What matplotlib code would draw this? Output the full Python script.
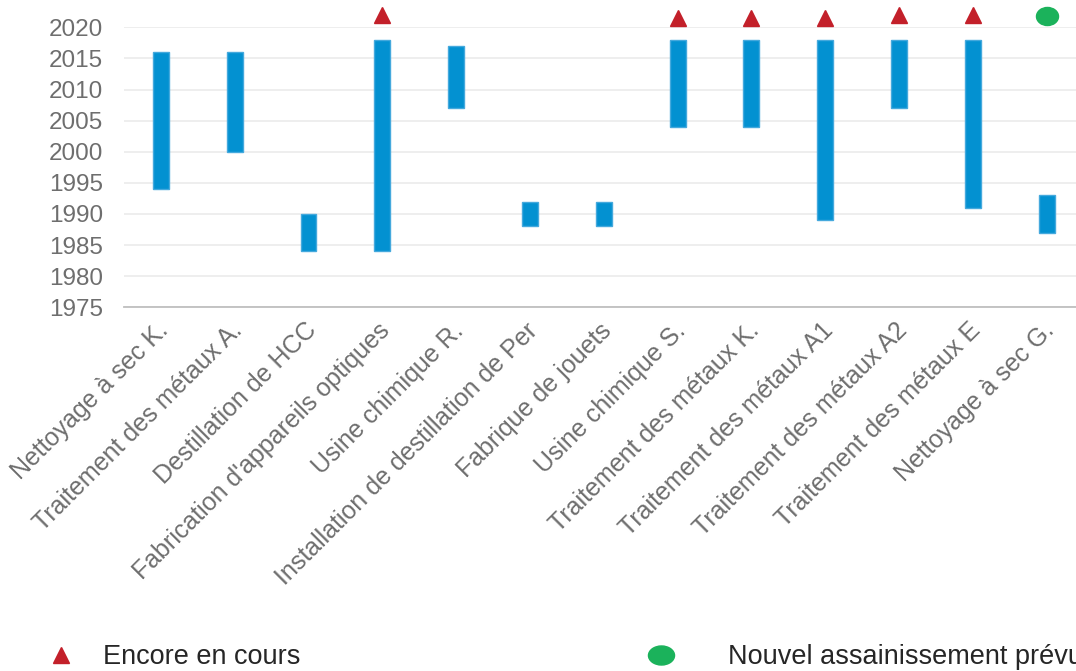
import numpy as np
import matplotlib
matplotlib.use("Agg")
import matplotlib.pyplot as plt
from matplotlib.lines import Line2D
from matplotlib.markers import MarkerStyle
from matplotlib.transforms import Affine2D, ScaledTranslation

plt.rcParams['font.family'] = ['Liberation Sans', 'DejaVu Sans']

# Sites and remediation periods (years)
sites = [
    "Nettoyage à sec K.",
    "Traitement des métaux A.",
    "Destillation de HCC",
    "Fabrication d'appareils optiques",
    "Usine chimique R.",
    "Installation de destillation de Per",
    "Fabrique de jouets",
    "Usine chimique S.",
    "Traitement des métaux K.",
    "Traitement des métaux A1",
    "Traitement des métaux A2",
    "Traitement des métaux E",
    "Nettoyage à sec G.",
]
start_year = [1994, 2000, 1984, 1984, 2007, 1988, 1988, 2004, 2004, 1989, 2007, 1991, 1987]
end_year   = [2016, 2016, 1990, 2018, 2017, 1992, 1992, 2018, 2018, 2018, 2018, 2018, 1993]

# Status markers above the bars (NaN = no marker)
ongoing_y = [np.nan, np.nan, np.nan, 2022, np.nan, np.nan, np.nan,
             2021.5, 2021.5, 2021.5, 2022, 2022, np.nan]
planned_y = [np.nan] * 12 + [2021.8]

year_ticks = [1975, 1980, 1985, 1990, 1995, 2000, 2005, 2010, 2015, 2020]

BLUE = "#0391d1"
BLUE_EDGE = "#45a9dd"
RED = "#c3202a"
GREEN = "#1bb25b"
GRID = "#ebebeb"
TICK = "#6e6e6e"

W, H = 1076, 671
fig = plt.figure(figsize=(W / 100, H / 100), dpi=100)
ax = fig.add_axes([124 / W, 1 - 307.3 / H, (1083.6 - 124) / W, 280 / H])

x = np.arange(len(sites))
starts = np.array(start_year, dtype=float)
ends = np.array(end_year, dtype=float)
ax.bar(x, ends - starts, bottom=starts, width=0.215, color=BLUE,
       edgecolor=BLUE_EDGE, linewidth=1.0, zorder=3)

tri = MarkerStyle('^')
ax.plot(x, ongoing_y, linestyle='none', marker=tri, markersize=11,
        color=RED, clip_on=False, zorder=4)
ell = MarkerStyle('o', transform=Affine2D().scale(1.22, 1.0))
ax.plot(x, planned_y, linestyle='none', marker=ell, markersize=13,
        color=GREEN, clip_on=False, zorder=4)

ax.set_xlim(-0.5, len(sites) - 0.5)
ax.set_ylim(1975, 2020)
ax.set_yticks(year_ticks)
ax.yaxis.grid(True, color=GRID, linewidth=1.2, zorder=0)
ax.set_axisbelow(True)
for s in ['top', 'right', 'left']:
    ax.spines[s].set_visible(False)
ax.spines['bottom'].set_color("#bfbfbf")
ax.spines['bottom'].set_linewidth(1.3)
ax.spines['bottom'].set_zorder(1)

ax.tick_params(axis='y', length=0, pad=15, labelsize=17.5, labelcolor=TICK)
ax.tick_params(axis='x', length=0, pad=14, labelsize=18, labelcolor=TICK)
ax.set_xticks(x)
ax.set_xticklabels(sites, rotation=45, ha='right', va='center',
                   rotation_mode='anchor')
# nudge the rotated category labels slightly to the right
shift = ScaledTranslation(4 / 100, 0, fig.dpi_scale_trans)
for lbl in ax.get_xticklabels():
    lbl.set_transform(lbl.get_transform() + shift)

# Legend entries
fs = 19.5
h1 = Line2D([], [], linestyle='none', marker='^', markersize=11.5, color=RED)
h2 = Line2D([], [], linestyle='none',
            marker=MarkerStyle('o', transform=Affine2D().scale(1.37, 1.0)),
            markersize=13.7, color=GREEN)
fs_px = fs * 100 / 72
for handle, label, mx, tx in [(h1, "Encore en cours", 61, 103),
                              (h2, "Nouvel assainissement prévu", 661, 728)]:
    hl = 1.0
    left = mx - hl * fs_px / 2
    pad = (tx - left - hl * fs_px) / fs_px
    fig.legend([handle], [label], loc='center left',
               bbox_to_anchor=(left / W, 1 - 657 / H),
               frameon=False, fontsize=fs, handlelength=hl,
               handletextpad=pad, borderpad=0, borderaxespad=0,
               labelcolor="#262626")

fig.savefig("out.png", dpi=100)
